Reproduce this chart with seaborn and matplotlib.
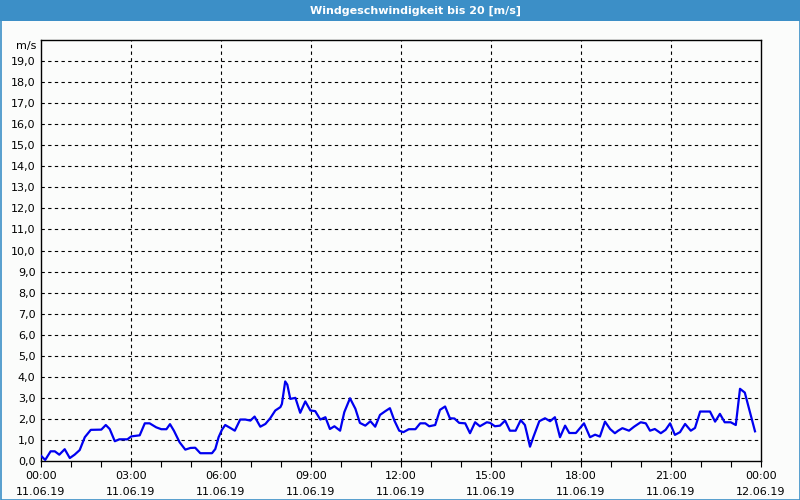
import matplotlib
matplotlib.use("Agg")
import matplotlib.pyplot as plt
from matplotlib.patches import Rectangle
from matplotlib.ticker import MultipleLocator, FixedLocator
import seaborn as sns
import pandas as pd

hours = [0.0, 0.14, 0.32, 0.46, 0.61, 0.79, 0.96, 1.12, 1.29, 1.46, 1.66, 2.01, 2.16, 2.29,
         2.46, 2.61, 2.88, 3.01, 3.29, 3.46, 3.62, 3.84, 4.01, 4.18, 4.3, 4.43, 4.62,
         4.81, 4.98, 5.14, 5.31, 5.7, 5.81, 5.92, 6.03, 6.14, 6.31, 6.46, 6.64, 6.81, 6.98,
         7.12, 7.31, 7.48, 7.64, 7.81, 7.98, 8.03, 8.14, 8.21, 8.31, 8.48, 8.64, 8.81, 8.98,
         9.14, 9.31, 9.48, 9.63, 9.78, 9.97, 10.11, 10.3, 10.48, 10.63, 10.81, 10.98, 11.14,
         11.3, 11.48, 11.63, 11.78, 11.94, 12.08, 12.26, 12.48, 12.64, 12.81, 12.94, 13.14,
         13.3, 13.47, 13.63, 13.78, 13.94, 14.14, 14.3, 14.47, 14.63, 14.86, 14.97, 15.13,
         15.3, 15.47, 15.63, 15.82, 15.99, 16.13, 16.21, 16.3, 16.41, 16.61, 16.8, 16.97,
         17.13, 17.3, 17.47, 17.61, 17.83, 18.1, 18.3, 18.47, 18.63, 18.8, 18.97, 19.13,
         19.24, 19.38, 19.6, 19.77, 19.99, 20.16, 20.3, 20.46, 20.66, 20.82, 20.97, 21.13,
         21.3, 21.47, 21.66, 21.8, 21.97, 22.3, 22.47, 22.63, 22.79, 22.99, 23.16, 23.3,
         23.46, 23.63, 23.8]
speed = [0.25, 0.05, 0.46, 0.46, 0.3, 0.56, 0.14, 0.3, 0.52, 1.13, 1.48, 1.49, 1.71, 1.52,
         0.94, 1.03, 1.03, 1.17, 1.22, 1.79, 1.79, 1.6, 1.51, 1.51, 1.75, 1.44, 0.89,
         0.54, 0.62, 0.63, 0.37, 0.37, 0.57, 1.13, 1.48, 1.71, 1.57, 1.44, 1.97, 1.97, 1.92,
         2.11, 1.63, 1.76, 2.03, 2.4, 2.56, 2.71, 3.78, 3.63, 2.95, 3.0, 2.29, 2.83, 2.4,
         2.37, 1.97, 2.08, 1.52, 1.65, 1.44, 2.32, 2.98, 2.48, 1.81, 1.68, 1.89, 1.63,
         2.19, 2.37, 2.51, 1.92, 1.44, 1.37, 1.51, 1.51, 1.79, 1.79, 1.65, 1.71,
         2.43, 2.59, 2.03, 2.02, 1.81, 1.79, 1.32, 1.84, 1.65, 1.84, 1.81, 1.65,
         1.68, 1.92, 1.44, 1.44, 1.94, 1.71, 1.24, 0.68, 1.13, 1.89, 2.03, 1.89,
         2.08, 1.13, 1.68, 1.33, 1.33, 1.79, 1.13, 1.25, 1.16, 1.87, 1.52, 1.32,
         1.44, 1.56, 1.44, 1.63, 1.84, 1.79, 1.44, 1.52, 1.32, 1.48, 1.79, 1.24,
         1.37, 1.76, 1.44, 1.57, 2.35, 2.35, 1.87, 2.24, 1.84, 1.84, 1.71, 3.43,
         3.25, 2.32, 1.41]

x_ticks = [0, 3, 6, 9, 12, 15, 18, 21, 24]
x_labels = ["00:00\n11.06.19", "03:00\n11.06.19", "06:00\n11.06.19", "09:00\n11.06.19",
            "12:00\n11.06.19", "15:00\n11.06.19", "18:00\n11.06.19", "21:00\n11.06.19",
            "00:00\n12.06.19"]
y_ticks = list(range(0, 20))
y_labels = [f"{v},0" for v in y_ticks]
title = "Windgeschwindigkeit bis 20 [m/s]"
unit = "m/s"

df = pd.DataFrame({"h": hours, "v": speed})

plt.rcParams['font.family'] = ['DejaVu Sans']
bg = "#fbfcfb"
fig = plt.figure(figsize=(8, 5), dpi=100, facecolor=bg)
W, H = 800, 500
ax = fig.add_axes([41 / W, 1 - 461 / H, 720 / W, 421 / H])
ax.set_facecolor(bg)

sns.lineplot(data=df, x="h", y="v", ax=ax, color="#0000f0", linewidth=1.6, zorder=3)

ax.set_xlim(0, 24)
ax.set_ylim(0, 20)
ax.set_xlabel("")
ax.set_ylabel("")

ax.xaxis.set_major_locator(FixedLocator(x_ticks))
ax.set_xticklabels(x_labels, fontsize=8, linespacing=1.75)
ax.xaxis.set_minor_locator(MultipleLocator(1))
ax.tick_params(axis="x", which="both", direction="out", length=4, width=0.8, color="black", pad=3)
ax.set_yticks(y_ticks)
ax.set_yticklabels(y_labels, fontsize=8)
ax.tick_params(axis="y", length=0, pad=4)

for v in range(1, 20):
    ax.axhline(v, color="black", linewidth=0.8, linestyle=(0, (3, 3)), zorder=1)
for h in range(3, 24, 3):
    ax.axvline(h, color="black", linewidth=0.8, linestyle=(0, (3, 3)), zorder=1)

for s in ax.spines.values():
    s.set_color("black")
    s.set_linewidth(1.0)

ax.text(-0.006, 19.72, unit, transform=ax.get_yaxis_transform(), ha="right", va="center",
        fontsize=8)

# title bar
fig.patches.append(Rectangle((0, 1 - 21 / H), 1, 21 / H, transform=fig.transFigure,
                             facecolor="#3c8fc7", edgecolor="none", zorder=0))
fig.text(415 / W, 1 - 10.5 / H, title, ha="center", va="center", color="white",
         fontsize=8, fontweight="bold")
# outer border
fig.patches.append(Rectangle((0.5 / W, 0.5 / H), 1 - 1 / W, 1 - 1 / H, transform=fig.transFigure,
                             facecolor="none", edgecolor="#3c8fc7", linewidth=1.2, zorder=5))

fig.savefig("out.png", dpi=100, facecolor=bg)
